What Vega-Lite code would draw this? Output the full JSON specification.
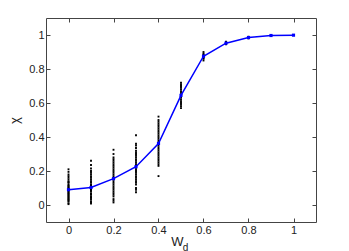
{
  "$schema": "https://vega.github.io/schema/vega-lite/v6.json",
  "width": 270,
  "height": 204,
  "autosize": "none",
  "padding": {"left": 46, "top": 18, "right": 33, "bottom": 29},
  "background": "white",
  "config": {
    "view": {"stroke": "#444", "strokeWidth": 1},
    "axis": {
      "labelFont": "Liberation Sans",
      "titleFont": "Liberation Sans",
      "labelFontSize": 11,
      "labelColor": "#222",
      "titleColor": "#222",
      "titleFontWeight": "normal",
      "domainColor": "#444",
      "tickColor": "#444",
      "grid": false
    }
  },
  "datasets": {
    "dots": [
      {"w":0,"chi":0.005},{"w":0,"chi":0.01},{"w":0,"chi":0.02},{"w":0,"chi":0.025},{"w":0,"chi":0.03},{"w":0,"chi":0.035},{"w":0,"chi":0.04},{"w":0,"chi":0.045},{"w":0,"chi":0.05},{"w":0,"chi":0.055},{"w":0,"chi":0.06},{"w":0,"chi":0.065},{"w":0,"chi":0.07},{"w":0,"chi":0.075},{"w":0,"chi":0.08},{"w":0,"chi":0.085},{"w":0,"chi":0.09},{"w":0,"chi":0.095},{"w":0,"chi":0.1},{"w":0,"chi":0.105},{"w":0,"chi":0.11},{"w":0,"chi":0.115},{"w":0,"chi":0.12},{"w":0,"chi":0.13},{"w":0,"chi":0.135},{"w":0,"chi":0.14},{"w":0,"chi":0.15},{"w":0,"chi":0.16},{"w":0,"chi":0.17},{"w":0,"chi":0.18},{"w":0,"chi":0.195},{"w":0,"chi":0.21},
      {"w":0.1,"chi":0.008},{"w":0.1,"chi":0.015},{"w":0.1,"chi":0.02},{"w":0.1,"chi":0.03},{"w":0.1,"chi":0.04},{"w":0.1,"chi":0.045},{"w":0.1,"chi":0.05},{"w":0.1,"chi":0.06},{"w":0.1,"chi":0.065},{"w":0.1,"chi":0.07},{"w":0.1,"chi":0.08},{"w":0.1,"chi":0.085},{"w":0.1,"chi":0.09},{"w":0.1,"chi":0.095},{"w":0.1,"chi":0.1},{"w":0.1,"chi":0.105},{"w":0.1,"chi":0.11},{"w":0.1,"chi":0.115},{"w":0.1,"chi":0.12},{"w":0.1,"chi":0.13},{"w":0.1,"chi":0.14},{"w":0.1,"chi":0.15},{"w":0.1,"chi":0.16},{"w":0.1,"chi":0.17},{"w":0.1,"chi":0.18},{"w":0.1,"chi":0.19},{"w":0.1,"chi":0.2},{"w":0.1,"chi":0.215},{"w":0.1,"chi":0.235},{"w":0.1,"chi":0.26},
      {"w":0.2,"chi":0.015},{"w":0.2,"chi":0.025},{"w":0.2,"chi":0.035},{"w":0.2,"chi":0.05},{"w":0.2,"chi":0.06},{"w":0.2,"chi":0.07},{"w":0.2,"chi":0.08},{"w":0.2,"chi":0.09},{"w":0.2,"chi":0.1},{"w":0.2,"chi":0.11},{"w":0.2,"chi":0.12},{"w":0.2,"chi":0.13},{"w":0.2,"chi":0.14},{"w":0.2,"chi":0.15},{"w":0.2,"chi":0.155},{"w":0.2,"chi":0.16},{"w":0.2,"chi":0.17},{"w":0.2,"chi":0.18},{"w":0.2,"chi":0.19},{"w":0.2,"chi":0.2},{"w":0.2,"chi":0.21},{"w":0.2,"chi":0.22},{"w":0.2,"chi":0.23},{"w":0.2,"chi":0.24},{"w":0.2,"chi":0.25},{"w":0.2,"chi":0.26},{"w":0.2,"chi":0.27},{"w":0.2,"chi":0.28},{"w":0.2,"chi":0.3},{"w":0.2,"chi":0.325},
      {"w":0.3,"chi":0.075},{"w":0.3,"chi":0.09},{"w":0.3,"chi":0.1},{"w":0.3,"chi":0.12},{"w":0.3,"chi":0.13},{"w":0.3,"chi":0.14},{"w":0.3,"chi":0.15},{"w":0.3,"chi":0.16},{"w":0.3,"chi":0.17},{"w":0.3,"chi":0.18},{"w":0.3,"chi":0.19},{"w":0.3,"chi":0.2},{"w":0.3,"chi":0.21},{"w":0.3,"chi":0.22},{"w":0.3,"chi":0.225},{"w":0.3,"chi":0.23},{"w":0.3,"chi":0.24},{"w":0.3,"chi":0.25},{"w":0.3,"chi":0.26},{"w":0.3,"chi":0.27},{"w":0.3,"chi":0.28},{"w":0.3,"chi":0.29},{"w":0.3,"chi":0.3},{"w":0.3,"chi":0.31},{"w":0.3,"chi":0.32},{"w":0.3,"chi":0.335},{"w":0.3,"chi":0.35},{"w":0.3,"chi":0.36},{"w":0.3,"chi":0.41},
      {"w":0.4,"chi":0.17},{"w":0.4,"chi":0.23},{"w":0.4,"chi":0.24},{"w":0.4,"chi":0.25},{"w":0.4,"chi":0.26},{"w":0.4,"chi":0.27},{"w":0.4,"chi":0.28},{"w":0.4,"chi":0.29},{"w":0.4,"chi":0.3},{"w":0.4,"chi":0.31},{"w":0.4,"chi":0.32},{"w":0.4,"chi":0.33},{"w":0.4,"chi":0.34},{"w":0.4,"chi":0.35},{"w":0.4,"chi":0.36},{"w":0.4,"chi":0.37},{"w":0.4,"chi":0.38},{"w":0.4,"chi":0.39},{"w":0.4,"chi":0.4},{"w":0.4,"chi":0.41},{"w":0.4,"chi":0.42},{"w":0.4,"chi":0.43},{"w":0.4,"chi":0.44},{"w":0.4,"chi":0.45},{"w":0.4,"chi":0.46},{"w":0.4,"chi":0.47},{"w":0.4,"chi":0.48},{"w":0.4,"chi":0.49},{"w":0.4,"chi":0.5},{"w":0.4,"chi":0.52},
      {"w":0.5,"chi":0.57},{"w":0.5,"chi":0.58},{"w":0.5,"chi":0.59},{"w":0.5,"chi":0.6},{"w":0.5,"chi":0.61},{"w":0.5,"chi":0.62},{"w":0.5,"chi":0.63},{"w":0.5,"chi":0.64},{"w":0.5,"chi":0.645},{"w":0.5,"chi":0.65},{"w":0.5,"chi":0.66},{"w":0.5,"chi":0.67},{"w":0.5,"chi":0.68},{"w":0.5,"chi":0.69},{"w":0.5,"chi":0.7},{"w":0.5,"chi":0.71},{"w":0.5,"chi":0.72},
      {"w":0.6,"chi":0.85},{"w":0.6,"chi":0.86},{"w":0.6,"chi":0.865},{"w":0.6,"chi":0.87},{"w":0.6,"chi":0.875},{"w":0.6,"chi":0.88},{"w":0.6,"chi":0.885},{"w":0.6,"chi":0.89},{"w":0.6,"chi":0.9},
      {"w":0.7,"chi":0.945},{"w":0.7,"chi":0.95},{"w":0.7,"chi":0.955},{"w":0.7,"chi":0.96},
      {"w":0.8,"chi":0.98},{"w":0.8,"chi":0.99}
    ],
    "mean": [
      {"w":0,"chi":0.09},{"w":0.1,"chi":0.103},{"w":0.2,"chi":0.155},{"w":0.3,"chi":0.225},{"w":0.4,"chi":0.362},{"w":0.5,"chi":0.645},{"w":0.6,"chi":0.875},{"w":0.7,"chi":0.952},{"w":0.8,"chi":0.985},{"w":0.9,"chi":0.997},{"w":1.0,"chi":0.999}
    ]
  },
  "layer": [
    {
      "data": {"name": "dots"},
      "mark": {"type": "point", "shape": "square", "filled": true, "size": 3.5, "color": "#000", "opacity": 1},
      "encoding": {
        "x": {"field": "w", "type": "quantitative", "scale": {"domain": [-0.1, 1.1], "nice": false, "zero": false},
              "axis": {"orient": "bottom", "values": [0,0.2,0.4,0.6,0.8,1], "format": "~g", "tickSize": -4, "labelPadding": 6, "domain": false, "title": "W", "titleFontSize": 13, "titlePadding": 0, "titleX": 131, "titleY": 13}},
        "y": {"field": "chi", "type": "quantitative", "scale": {"domain": [-0.1, 1.1], "nice": false, "zero": false},
              "axis": {"orient": "left", "values": [0,0.2,0.4,0.6,0.8,1], "format": "~g", "tickSize": -4, "labelPadding": 6, "domain": false, "title": "χ", "titleFontSize": 13, "titleX": -25}}
      }
    },
    {
      "data": {"name": "mean"},
      "mark": {"type": "line", "color": "#0000ff", "strokeWidth": 1.5, "point": {"shape": "square", "filled": true, "size": 10, "color": "#0000ff"}},
      "encoding": {
        "x": {"field": "w", "type": "quantitative",
              "axis": {"orient": "top", "values": [0,0.2,0.4,0.6,0.8,1], "labels": false, "tickSize": -4, "domain": false, "title": null}},
        "y": {"field": "chi", "type": "quantitative",
              "axis": {"orient": "right", "values": [0,0.2,0.4,0.6,0.8,1], "labels": false, "tickSize": -4, "domain": false, "title": null}}
      }
    },
    {
      "data": {"name": "mean"},
      "mark": {"type": "point", "opacity": 0},
      "encoding": {
        "x": {"field": "w", "type": "quantitative",
              "axis": {"orient": "bottom", "labels": false, "ticks": false, "domain": false, "title": "d", "titleFontSize": 10, "titleX": 139, "titleY": 20}}
      }
    }
  ],
  "resolve": {"axis": {"x": "independent", "y": "independent"}}
}
